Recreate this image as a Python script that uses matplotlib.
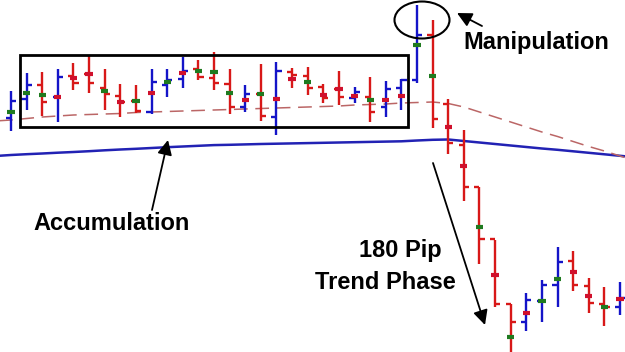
import numpy as np
import matplotlib.pyplot as plt
from matplotlib.patches import Rectangle, Ellipse

# price levels (pips above the session low), one entry per bar
highs = [261, 279, 280, 283, 289, 297, 283, 268, 267, 283, 283, 295, 292, 300, 283, 267, 288, 290, 284, 285,
         268, 281, 265, 275, 271, 273, 347, 332, 253, 222, 165, 112, 48, 59, 72, 105, 101, 74, 65, 70]
lows = [221, 242, 236, 230, 262, 259, 242, 235, 239, 238, 255, 264, 272, 262, 238, 240, 231, 217, 264, 257,
        249, 247, 249, 230, 235, 242, 269, 224, 198, 151, 88, 45, 0, 21, 30, 45, 61, 39, 26, 37]
opens = [234, 253, 267, 255, 276, 278, 264, 256, 251, 240, 267, 273, 283, 274, 268, 245, 258, 235, 280, 276,
         265, 263, 254, 255, 245, 264, 272, 317, 248, 207, 165, 113, 48, 30, 51, 67, 91, 66, 48, 45]
closes = [251, 267, 250, 275, 269, 269, 258, 250, 241, 270, 272, 281, 275, 269, 245, 258, 236, 281, 277, 264,
          254, 255, 260, 240, 263, 272, 317, 233, 209, 165, 113, 48, 30, 52, 67, 90, 67, 49, 45, 54]
# pivot marker on each bar: level and type (g = green, r = red)
pivots = [240, 259, 257, 255, 274, 278, 261, 250, 251, 259, 270, 279, 281, 280, 259, 252, 258, 253, 273, 270,
          257, 263, 256, 252, 252, 256, 307, 276, 225, 186, 125, 77, 15, 39, 51, 73, 80, 56, 45, 53]
pivot_kind = ['g', 'g', 'g', 'r', 'r', 'r', 'g', 'r', 'g', 'r', 'g', 'r', 'g', 'g', 'g', 'r', 'g', 'r', 'r', 'g',
              'r', 'r', 'r', 'g', 'r', 'r', 'g', 'g', 'r', 'r', 'g', 'r', 'g', 'r', 'g', 'g', 'r', 'r', 'g', 'r']

# moving averages, bars -1 .. 40
ma_slow = [196, 197, 197.8, 198.5, 199.3, 200, 200.8, 201.7, 202.5, 203.2, 204, 204.8, 205.5, 206.2, 206.9,
           207.2, 207.6, 208, 208.3, 208.6, 208.9, 209.2, 209.5, 209.8, 210.1, 210.4, 210.7, 211.5, 212.2,
           212.5, 211, 209.5, 208, 206.5, 205, 203.5, 202.2, 200.7, 199.2, 197.7, 196.2, 194.7]
ma_fast = [231, 232, 233.5, 235, 236, 237, 237.5, 238, 238.5, 239.5, 240, 240.5, 241, 241.5, 242, 242.5,
           243, 243.5, 244, 244.5, 245, 245.5, 246, 247, 247.5, 248, 249, 249.5, 250, 248.5, 245, 240, 235,
           230, 225, 220, 215.5, 210.5, 205.5, 201, 196, 191]

BLUE = '#1414c8'
RED = '#d81818'
MARK_G = '#1f7a1f'
MARK_R = '#d0102c'

fig = plt.figure(figsize=(6.25, 3.52), dpi=100)
ax = fig.add_axes([0, 0, 1, 1])
ax.set_xlim(-0.704, 39.32)
ax.set_ylim(0, 352)
ax.axis('off')

ma_x = np.arange(-1, 41)
ax.plot(ma_x, ma_slow, color='#2222b4', lw=1.8, zorder=1)
ax.plot(ma_x, ma_fast, color='#bb6666', lw=1.1, dashes=(9, 5), zorder=1)

x = np.arange(len(highs))
up = np.array(closes) >= np.array(opens)
cols = [BLUE if u else RED for u in up]
tick = 0.33
ax.vlines(x, lows, highs, colors=cols, lw=1.7, zorder=3)
ax.hlines(opens, x - tick, x, colors=cols, lw=1.7, zorder=3)
ax.hlines(closes, x, x + tick, colors=cols, lw=1.7, zorder=3)
mcols = [MARK_G if k == 'g' else MARK_R for k in pivot_kind]
ax.hlines(pivots, x - 0.23, x + 0.23, colors=mcols, lw=3, zorder=4)

# annotations (figure pixel positions of the original picture)
W, H = 625, 352
def fp(px, py):
    return (px / W, 1 - py / H)

ax.add_patch(Rectangle(fp(20, 127), 388 / W, 72 / H, transform=fig.transFigure,
                       fill=False, ec='black', lw=2, zorder=5))
ax.add_patch(Ellipse(fp(422, 20), 55 / W, 37 / H, transform=fig.transFigure,
                     fill=False, ec='black', lw=1.5, zorder=5))

font = dict(family='Liberation Sans', fontsize=17, fontweight='bold', color='black')
fig.text(*fp(463, 48.5), 'Manipulation', ha='left', va='baseline', **font)
fig.text(*fp(33, 230), 'Accumulation', ha='left', va='baseline', **font)
fig.text(*fp(359, 257), '180 Pip', ha='left', va='baseline', **font)
fig.text(*fp(315, 289), 'Trend Phase', ha='left', va='baseline', **font)

arrow = dict(arrowstyle='-|>', color='black', lw=1.3, mutation_scale=22, shrinkA=0, shrinkB=0)
ax.annotate('', xy=fp(457, 13), xytext=fp(482, 26), xycoords='figure fraction',
            textcoords='figure fraction', arrowprops=arrow)
ax.annotate('', xy=fp(168, 140), xytext=fp(152, 210), xycoords='figure fraction',
            textcoords='figure fraction', arrowprops=arrow)
ax.annotate('', xy=fp(485, 325), xytext=fp(433, 163), xycoords='figure fraction',
            textcoords='figure fraction', arrowprops=arrow)

fig.savefig('out.png', dpi=100, facecolor='white')
